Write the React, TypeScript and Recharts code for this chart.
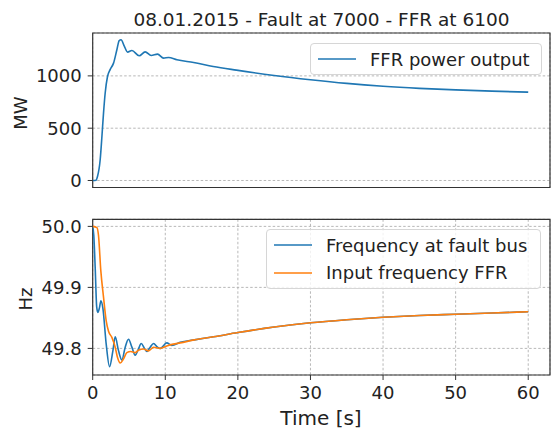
import React from 'react';
import { LineChart, Line, XAxis, YAxis, CartesianGrid, ReferenceArea, Legend } from 'recharts';

// ---- data ----
const powerTime = [0, 0.45, 0.66, 1.03, 1.27, 1.49, 1.72, 2.04, 2.4, 2.87, 3.33, 3.65, 3.9, 4.35, 4.8, 5.4, 6.4, 7.23, 8.06, 8.93, 9.76, 10.45, 11.6, 13.9, 16.6, 19.8, 25, 30, 35, 40, 45, 50, 55, 60];
const powerOutput = [0, 3, 38, 198, 421, 644, 836, 994, 1060, 1122, 1250, 1338, 1345, 1285, 1227, 1243, 1192, 1230, 1195, 1208, 1170, 1176, 1154, 1128, 1090, 1055, 1004, 963, 928, 901, 881, 866, 854, 845];

const busTime = [0, 0.15, 0.35, 0.55, 0.71, 0.92, 1.13, 1.4, 1.86, 2.32, 2.78, 3.1, 3.56, 4.02, 4.48, 4.93, 5.4, 5.85, 6.3, 6.68, 7.14, 7.46, 7.92, 8.38, 8.93, 9.3, 10.2, 10.9, 12.05, 14, 16.65, 20, 25, 30, 35, 40, 45, 50, 55, 60];
const busFreq = [50.0, 49.985, 49.93, 49.868, 49.859, 49.866, 49.878, 49.866, 49.807, 49.770, 49.796, 49.819, 49.796, 49.781, 49.802, 49.815, 49.802, 49.789, 49.799, 49.808, 49.8, 49.795, 49.802, 49.808, 49.802, 49.8, 49.809, 49.805, 49.810, 49.814, 49.819, 49.826, 49.835, 49.842, 49.847, 49.851, 49.854, 49.856, 49.858, 49.86];

const ffrTime = [0, 0.58, 0.8, 1.12, 1.49, 1.86, 2.18, 2.64, 3.1, 3.42, 3.79, 4.25, 4.7, 5.25, 5.85, 6.3, 7.0, 7.7, 8.38, 9.3, 10.2, 11.1, 12.05, 14, 16.65, 20, 25, 30, 35, 40, 45, 50, 55, 60];
const ffrFreq = [50.0, 49.998, 49.985, 49.927, 49.884, 49.845, 49.828, 49.818, 49.802, 49.785, 49.776, 49.783, 49.793, 49.795, 49.793, 49.797, 49.799, 49.796, 49.802, 49.8, 49.804, 49.807, 49.809, 49.814, 49.819, 49.826, 49.835, 49.842, 49.847, 49.851, 49.854, 49.856, 49.858, 49.86];

const timeTicks = [0, 10, 20, 30, 40, 50, 60];
const powerTicks = [0, 500, 1000];
const freqTicks = [49.8, 49.9, 50.0];
const timeDomain = [0, 63];
const powerDomain = [-67, 1410];
const freqDomain = [49.7564, 50.0116];

const titleText = '08.01.2015 - Fault at 7000 - FFR at 6100';
const powerName = 'FFR power output';
const busName = 'Frequency at fault bus';
const ffrName = 'Input frequency FFR';

const BLUE = '#1f77b4';
const ORANGE = '#ff7f0e';

const powerData = powerTime.map((t, i) => ({ t, v: powerOutput[i] }));
const busData = busTime.map((t, i) => ({ t, v: busFreq[i] }));
const ffrData = ffrTime.map((t, i) => ({ t, v: ffrFreq[i] }));

const FONT = '"DejaVu Sans", sans-serif';
const tickStyle = { fontSize: 18, fill: '#222', fontFamily: FONT };

const LegendBox = ({ items, style }: { items: { name: string; color: string }[]; style: React.CSSProperties }) => (
  <div
    style={{
      boxSizing: 'border-box',
      background: 'rgba(255,255,255,0.8)',
      border: '1px solid #d6d6d6',
      borderRadius: 4,
      fontFamily: FONT,
      fontSize: 18,
      color: '#222',
      ...style,
    }}
  >
    {items.map((it) => (
      <div key={it.name} style={{ display: 'flex', alignItems: 'center', height: 27.7, whiteSpace: 'nowrap' }}>
        <svg width={38} height={4} style={{ marginLeft: 7, marginRight: 14, display: 'block' }}>
          <line x1={0} y1={2} x2={38} y2={2} stroke={it.color} strokeWidth={1.6} />
        </svg>
        <span>{it.name}</span>
      </div>
    ))}
  </div>
);

export default function App() {
  return (
    <div style={{ position: 'absolute', left: 0, top: 0, width: 554, height: 430, background: '#fff', fontFamily: FONT }}>
      <svg width={554} height={40} style={{ position: 'absolute', left: 0, top: 0 }}>
        <text x={321.5} y={26} textAnchor="middle" fontSize={18.5} fill="#222" fontFamily={FONT}>
          {titleText}
        </text>
      </svg>
      <div style={{ position: 'absolute', left: 0, top: 0 }}>
        <LineChart width={554} height={200} margin={{ top: 33, right: 4, bottom: 11.5, left: 0 }}>
          <CartesianGrid stroke="#b0b0b0" strokeDasharray="2.5 2" strokeWidth={0.9} />
          <XAxis type="number" dataKey="t" domain={timeDomain} ticks={timeTicks} tick={false} tickLine={false} axisLine={false} height={1} allowDataOverflow />
          <YAxis
            type="number"
            dataKey="v"
            domain={powerDomain}
            ticks={powerTicks}
            width={92.7}
            tick={tickStyle}
            tickSize={5}
            tickMargin={6}
            tickLine={{ stroke: '#333' }}
            axisLine={false}
            allowDataOverflow
            label={() => (
              <text x={20} y={113} transform="rotate(-90 20 113)" textAnchor="middle" dominantBaseline="central" fontSize={18} fill="#222" fontFamily={FONT}>
                MW
              </text>
            )}
          />
          <Line data={powerData} dataKey="v" name={powerName} type="monotone" stroke={BLUE} strokeWidth={1.6} dot={false} isAnimationActive={false} />
          <ReferenceArea x1={0} x2={63} y1={-67} y2={1410} fill="none" stroke="#333" strokeWidth={1.2} />
          <Legend
            layout="horizontal"
            verticalAlign="middle"
            align="center"
            wrapperStyle={{ left: 310, top: 42.7, width: 232, height: 33, right: 'auto', bottom: 'auto' }}
            content={() => <LegendBox items={[{ name: powerName, color: BLUE }]} style={{ width: 232, height: 32.5, paddingTop: 1.5 }} />}
          />
        </LineChart>
      </div>
      <div style={{ position: 'absolute', left: 0, top: 200 }}>
        <LineChart width={554} height={230} margin={{ top: 19.3, right: 4, bottom: 15, left: 0 }}>
          <CartesianGrid stroke="#b0b0b0" strokeDasharray="2.5 2" strokeWidth={0.9} />
          <XAxis
            type="number"
            dataKey="t"
            domain={timeDomain}
            ticks={timeTicks}
            tick={tickStyle}
            tickSize={5}
            tickMargin={6}
            tickLine={{ stroke: '#333' }}
            axisLine={false}
            height={40}
            allowDataOverflow
            label={() => (
              <text x={321} y={225} textAnchor="middle" fontSize={20} fill="#222" fontFamily={FONT}>
                Time [s]
              </text>
            )}
          />
          <YAxis
            type="number"
            dataKey="v"
            domain={freqDomain}
            ticks={freqTicks}
            tickFormatter={(v: number) => v.toFixed(1)}
            width={92.7}
            tick={tickStyle}
            tickSize={5}
            tickMargin={6}
            tickLine={{ stroke: '#333' }}
            axisLine={false}
            allowDataOverflow
            label={() => (
              <text x={25} y={99} transform="rotate(-90 25 99)" textAnchor="middle" dominantBaseline="central" fontSize={18} fill="#222" fontFamily={FONT}>
                Hz
              </text>
            )}
          />
          <Line data={busData} dataKey="v" name={busName} type="monotone" stroke={BLUE} strokeWidth={1.6} dot={false} isAnimationActive={false} />
          <Line data={ffrData} dataKey="v" name={ffrName} type="monotone" stroke={ORANGE} strokeWidth={1.6} dot={false} isAnimationActive={false} />
          <ReferenceArea x1={0} x2={63} y1={49.7564} y2={50.0116} fill="none" stroke="#333" strokeWidth={1.2} />
          <Legend
            layout="horizontal"
            verticalAlign="middle"
            align="center"
            wrapperStyle={{ left: 266, top: 29.3, width: 275, height: 60, right: 'auto', bottom: 'auto' }}
            content={() => (
              <LegendBox
                items={[
                  { name: busName, color: BLUE },
                  { name: ffrName, color: ORANGE },
                ]}
                style={{ width: 275, height: 59.7, paddingTop: 1 }}
              />
            )}
          />
        </LineChart>
      </div>
    </div>
  );
}
